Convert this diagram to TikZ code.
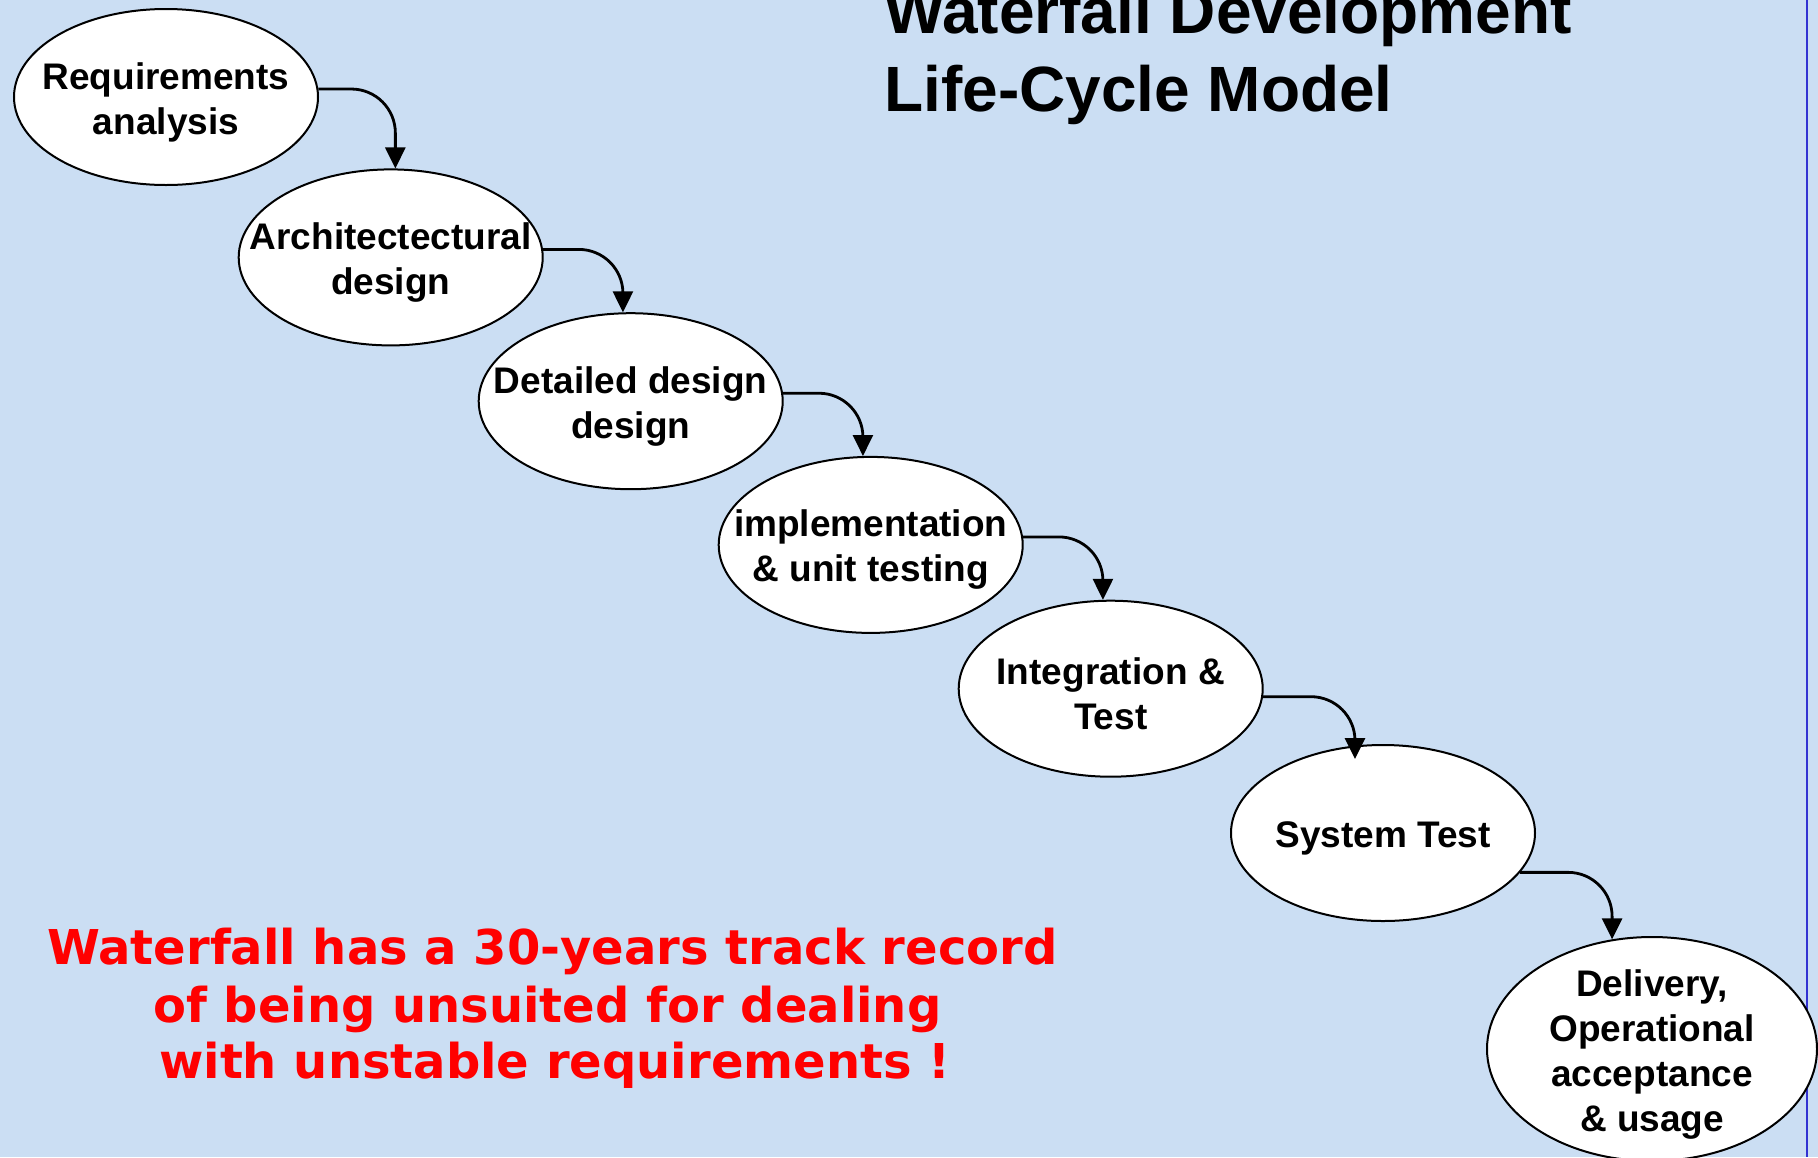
\documentclass[tikz,border=0pt]{standalone}
\usepackage{fontspec}
\setmainfont{Liberation Sans}
\newfontfamily\redfont{DejaVu Sans}
\usetikzlibrary{shapes.geometric,arrows.meta,calc}
\definecolor{bg}{RGB}{203,222,243}
\definecolor{edgeblue}{RGB}{50,50,210}
\begin{document}
\begin{tikzpicture}[x=1pt,y=-1pt,
  stage/.style={ellipse, draw=black, line width=2pt, fill=white, inner sep=0pt,
    minimum width=304pt, minimum height=176pt},
  stagetext/.style={font=\fontsize{37}{45}\selectfont\bfseries, align=center, inner sep=0pt, yshift=-5pt},
  flow/.style={-{Triangle[width=20pt,length=21pt]}, line width=2.8pt, rounded corners=44pt},
  title/.style={font=\fontsize{64}{76}\selectfont\bfseries, anchor=base west, inner sep=0pt},
  note/.style={font=\redfont\fontsize{48}{58}\selectfont\bfseries, text=red, anchor=base west, inner sep=0pt}]
\clip (0,0) rectangle (1818,1157);
\useasboundingbox (0,0) rectangle (1818,1157);
\fill[bg] (0,0) rectangle (1818,1157);
\draw[edgeblue, line width=2pt] (1807,0) -- (1807,1157);

\node[title] (t1) at (884,33) {Waterfall Development};
\node[title] (t2) at (884,111) {Life-Cycle Model};

\node[stage, label={[stagetext]center:{Requirements\\analysis}}] (a) at (166,97) {};
\node[stage, label={[stagetext]center:{Architectectural\\design}}] (b) at (390.7,257.4) {};
\node[stage, label={[stagetext]center:{Detailed design\\design}}] (c) at (630.7,401.2) {};
\node[stage, label={[stagetext]center:{implementation\\\& unit testing}}] (d) at (870.7,544.9) {};
\node[stage, label={[stagetext]center:{Integration \&\\Test}}] (e) at (1110.7,688.7) {};
\node[stage, label={[stagetext]center:{System Test}}] (f) at (1383,833) {};
\node[stage, minimum width=330pt, minimum height=224pt,
  label={[stagetext]center:{Delivery,\\Operational\\acceptance\\\& usage}}] (g) at (1652,1049) {};

\draw[flow] (a.3) -| (b.87);
\draw[flow] (b.3) -| (c.95.8);
\draw[flow] (c.3) -| (d.95.8);
\draw[flow] (d.3) -| (e.95.8);
\draw[flow] (e.-3) -| ($(f.north)+(-28,15)$);
\draw[flow] (f.-16) -| (g.110);

\node[note] (n1) at (47,964) {Waterfall has a 30-years track record};
\node[note] (n2) at (153,1022) {of being unsuited for dealing};
\node[note] (n3) at (159,1078) {with unstable requirements !};
\end{tikzpicture}
\end{document}
